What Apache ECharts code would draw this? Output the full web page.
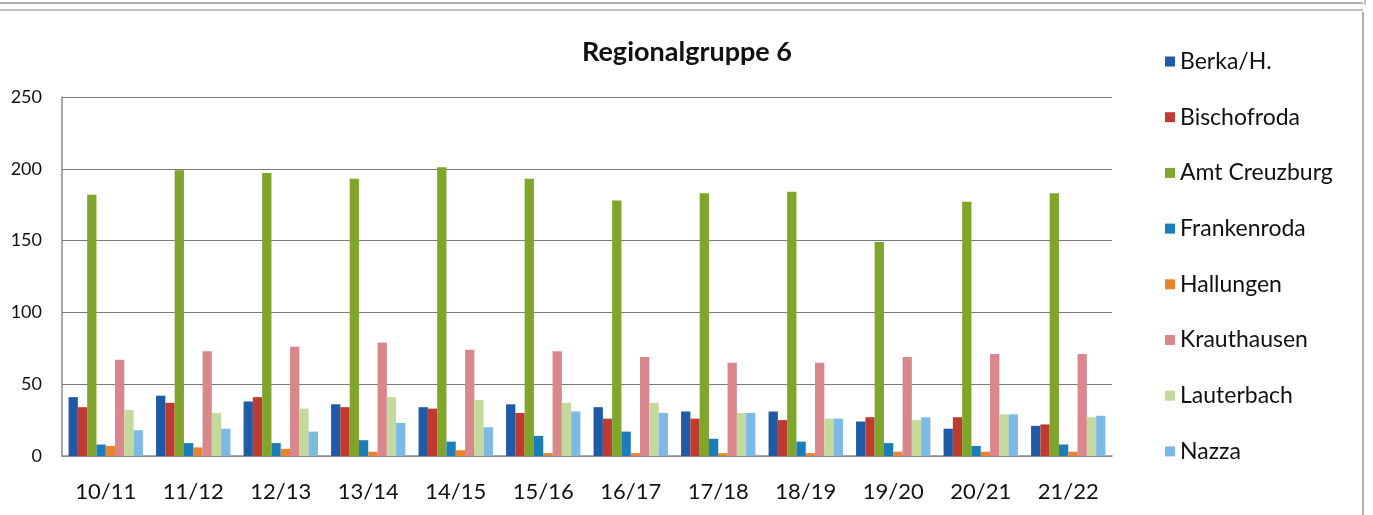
<!DOCTYPE html>
<html>
<head>
<meta charset="utf-8">
<script src="https://cdn.jsdelivr.net/npm/echarts@6/dist/echarts.min.js"></script>
<style>
html,body{margin:0;padding:0;background:#fff;}
#chart{width:1373px;height:515px;}
</style>
</head>
<body>
<div id="chart"></div>
<script>
const categories = ['10/11','11/12','12/13','13/14','14/15','15/16','16/17','17/18','18/19','19/20','20/21','21/22'];
const seriesNames = ['Berka/H.','Bischofroda','Amt Creuzburg','Frankenroda','Hallungen','Krauthausen','Lauterbach','Nazza'];
const berka        = [41, 42, 38, 36, 34, 36, 34, 31, 31, 24, 19, 21];
const bischofroda  = [34, 37, 41, 34, 33, 30, 26, 26, 25, 27, 27, 22];
const amtCreuzburg = [182, 199, 197, 193, 201, 193, 178, 183, 184, 149, 177, 183];
const frankenroda  = [8, 9, 9, 11, 10, 14, 17, 12, 10, 9, 7, 8];
const hallungen    = [7, 6, 5, 3, 4, 2, 2, 2, 2, 3, 3, 3];
const krauthausen  = [67, 73, 76, 79, 74, 73, 69, 65, 65, 69, 71, 71];
const lauterbach   = [32, 30, 33, 41, 39, 37, 37, 30, 26, 25, 29, 27];
const nazza        = [18, 19, 17, 23, 20, 31, 30, 30, 26, 27, 29, 28];
const yTicks = [0, 50, 100, 150, 200, 250];

const allData = [berka, bischofroda, amtCreuzburg, frankenroda, hallungen, krauthausen, lauterbach, nazza];
const colors = ['#1F5AA6','#BF3B30','#7FA52B','#1B7DBA','#E8832E','#D9878C','#C4D99C','#7CBAE6'];

const FONT = 'Lato, "Noto Sans", sans-serif';
const chart = echarts.init(document.getElementById('chart'), null, {renderer:'canvas'});
chart.setOption({
  animation:false,
  backgroundColor:'#fff',
  color: colors,
  title:{
    text:'Regionalgruppe 6',
    left:682, top:34, textAlign:'center',
    textStyle:{fontFamily:FONT, fontSize:27, fontWeight:'bold', color:'#111'}
  },
  legend:{
    orient:'vertical',
    left:1160, top:45,
    itemWidth:10, itemHeight:10, itemGap:32.7,
    icon:'rect',
    data: seriesNames,
    textStyle:{fontFamily:FONT, fontSize:23, color:'#111', padding:[0,0,0,0]}
  },
  grid:{left:62, right:261, top:97, bottom:59, containLabel:false},
  xAxis:{
    type:'category', data:categories,
    axisLine:{show:true, lineStyle:{color:'#8a8a8a', width:1.5}},
    axisTick:{show:false},
    axisLabel:{fontFamily:FONT, fontSize:22, color:'#111', margin:25}
  },
  yAxis:{
    type:'value', min:yTicks[0], max:yTicks[yTicks.length-1], interval:50,
    axisLine:{show:true, lineStyle:{color:'#8a8a8a', width:1.5}},
    axisTick:{show:false},
    splitLine:{lineStyle:{color:'#7a7a7a', width:1.2}},
    axisLabel:{fontFamily:FONT, fontSize:18, color:'#111', margin:20}
  },
  graphic:[
    {type:'line', shape:{x1:0,y1:3,x2:1363,y2:3}, style:{stroke:'#999', lineWidth:1.5}},
    {type:'line', shape:{x1:0,y1:10,x2:1363,y2:10}, style:{stroke:'#aaa', lineWidth:1.5}},
    {type:'line', shape:{x1:1363,y1:12,x2:1363,y2:515}, style:{stroke:'#999', lineWidth:1.5}},
    {type:'line', shape:{x1:1365,y1:0,x2:1365,y2:5}, style:{stroke:'#999', lineWidth:1.2}}
  ],
  series: seriesNames.map((n,i)=>({
    name:n, type:'bar', data:allData[i],
    barGap:'0%', barCategoryGap:'15%'
  }))
});
</script>
</body>
</html>
